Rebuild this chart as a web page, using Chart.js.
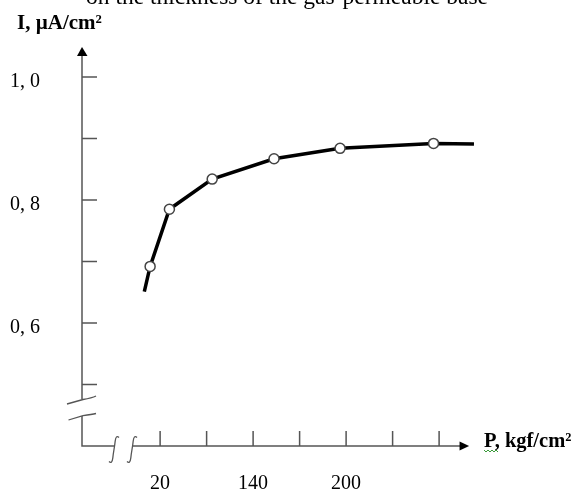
<!DOCTYPE html>
<html>
<head>
<meta charset="utf-8">
<script src="https://cdn.jsdelivr.net/npm/chart.js@4/dist/chart.umd.min.js"></script>
<style>
  html, body { margin: 0; padding: 0; background: #fff; }
  #wrap { width: 581px; height: 489px; position: relative; }
</style>
</head>
<body>
<div id="wrap"><canvas id="c" width="581" height="489"></canvas></div>
<script>
// ---- data ----
const chartTitle = 'on the thickness of the gas-permeable base';
const yAxisTitle = 'I, \u00B5A/cm\u00B2';
const xAxisTitle = 'P, kgf/cm\u00B2';
// x positions in tick-index units (tick 0 = "20", tick 2 = "140", tick 4 = "200")
const pressurePositions = [-0.34, -0.215, 0.2, 1.12, 2.45, 3.87, 5.88, 6.75];
const currentValues     = [0.651, 0.692, 0.785, 0.834, 0.867, 0.884, 0.892, 0.891];
const markerShown       = [false, true, true, true, true, true, true, false];
const xTickValues = [0, 1, 2, 3, 4, 5, 6];
const xTickLabels = ['20', '', '140', '', '200', '', ''];
const yTickValues = [0.5, 0.6, 0.7, 0.8, 0.9, 1.0];
const yTickLabels = ['', '0, 6', '', '0, 8', '', '1, 0'];

const AXIS = '#555';
const SERIF = '"Liberation Serif", "Times New Roman", serif';

function noPad(s) {
  s.paddingLeft = 0; s.paddingRight = 0; s.paddingTop = 0; s.paddingBottom = 0;
}

const axesPlugin = {
  id: 'handAxes',
  afterDraw(chart) {
    const ctx = chart.ctx;
    const xs = chart.scales.x, ys = chart.scales.y;
    const ox = chart.chartArea.left;
    const oy = chart.chartArea.bottom;
    const yTop = ys.getPixelForValue(1.0488);
    const xEnd = xs.getPixelForValue(6.645);
    const sq = [ox + 32, ox + 50];
    ctx.save();
    ctx.strokeStyle = AXIS;
    ctx.fillStyle = AXIS;
    ctx.lineWidth = 1.5;
    ctx.lineCap = 'butt';
    // y axis (with break)
    ctx.beginPath();
    ctx.moveTo(ox, yTop + 8);
    ctx.lineTo(ox, oy - 47);
    ctx.moveTo(ox, oy - 30);
    ctx.lineTo(ox, oy);
    // x axis (with break between the squiggles)
    ctx.lineTo(sq[0], oy);
    ctx.moveTo(sq[1], oy);
    ctx.lineTo(xEnd - 9, oy);
    ctx.stroke();
    // y arrow
    ctx.fillStyle = '#000';
    ctx.beginPath();
    ctx.moveTo(ox, yTop);
    ctx.lineTo(ox - 5, yTop + 9);
    ctx.lineTo(ox + 5.5, yTop + 9);
    ctx.closePath();
    ctx.fill();
    // x arrow
    ctx.beginPath();
    ctx.moveTo(xEnd, oy);
    ctx.lineTo(xEnd - 9.5, oy - 4.5);
    ctx.lineTo(xEnd - 9.5, oy + 4.5);
    ctx.closePath();
    ctx.fill();
    // y ticks (inward)
    ctx.beginPath();
    yTickValues.forEach(v => {
      const p = ys.getPixelForValue(v);
      ctx.moveTo(ox, p); ctx.lineTo(ox + 15, p);
    });
    // x ticks (upward)
    xTickValues.forEach(v => {
      const p = xs.getPixelForValue(v);
      ctx.moveTo(p, oy); ctx.lineTo(p, oy - 15);
    });
    ctx.stroke();
    // y-axis break marks
    ctx.lineWidth = 1.3;
    ctx.beginPath();
    ctx.moveTo(ox - 15, oy - 42);
    ctx.lineTo(ox + 1, oy - 46.5);
    ctx.quadraticCurveTo(ox + 10, oy - 48, ox + 14, oy - 50);
    ctx.moveTo(ox - 13.5, oy - 26);
    ctx.lineTo(ox + 1, oy - 30.3);
    ctx.quadraticCurveTo(ox + 10, oy - 31.5, ox + 14, oy - 32.5);
    ctx.stroke();
    // x-axis break squiggles
    sq.forEach(cx => {
      const t = oy - 10, b = oy + 17;
      ctx.beginPath();
      ctx.moveTo(cx + 5, t + 1.5);
      ctx.quadraticCurveTo(cx + 2, t - 1.5, cx + 1.2, t + 5);
      ctx.bezierCurveTo(cx + 0.5, t + 12, cx - 0.5, b - 12, cx - 1.2, b - 5);
      ctx.quadraticCurveTo(cx - 2, b + 1.5, cx - 5, b - 1.5);
      ctx.stroke();
    });
    // texts
    ctx.fillStyle = '#000';
    ctx.textBaseline = 'alphabetic';
    ctx.font = '23.5px ' + SERIF;
    ctx.textAlign = 'center';
    ctx.fillText(chartTitle, 287, 4);
    ctx.textAlign = 'left';
    ctx.font = 'bold 21px ' + SERIF;
    ctx.fillText(yAxisTitle, 17, 29);
    ctx.font = 'bold 20.5px ' + SERIF;
    ctx.fillText(xAxisTitle, 484, 447);
    // spell-check wavy underline under "P"
    ctx.strokeStyle = '#3a9a3a';
    ctx.lineWidth = 1;
    ctx.beginPath();
    ctx.moveTo(484, 450);
    for (let i = 1; i <= 7; i++) ctx.lineTo(484 + i * 2, i % 2 ? 452 : 450);
    ctx.stroke();
    ctx.restore();
  }
};

new Chart(document.getElementById('c'), {
  type: 'line',
  data: {
    datasets: [{
      data: pressurePositions.map((x, i) => ({ x: x, y: currentValues[i] })),
      borderColor: '#000',
      borderWidth: 3.5,
      tension: 0,
      fill: false,
      clip: false,
      pointRadius: markerShown.map(s => s ? 5 : 0),
      pointBackgroundColor: '#fff',
      pointBorderColor: '#444',
      pointBorderWidth: 1.5,
      pointHoverRadius: markerShown.map(s => s ? 5 : 0)
    }]
  },
  options: {
    responsive: false,
    animation: false,
    events: [],
    layout: { padding: { top: 40.1, right: 95.4, left: 0, bottom: 0 } },
    plugins: { legend: { display: false }, tooltip: { enabled: false }, title: { display: false } },
    scales: {
      x: {
        type: 'linear',
        min: -1.68,
        max: 7.0,
        border: { display: false },
        grid: { display: false },
        afterBuildTicks: s => { s.ticks = xTickValues.map(v => ({ value: v })); },
        afterFit: s => { s.height = 43; noPad(s); },
        ticks: {
          padding: 18,
          autoSkip: false,
          maxRotation: 0,
          color: '#000',
          font: { family: SERIF, size: 20 },
          callback: (v) => { const i = xTickValues.indexOf(v); return i >= 0 ? xTickLabels[i] : ''; }
        }
      },
      y: {
        type: 'linear',
        min: 0.4,
        max: 1.06,
        border: { display: false },
        grid: { display: false },
        afterBuildTicks: s => { s.ticks = yTickValues.map(v => ({ value: v })); },
        afterFit: s => { s.width = 82; noPad(s); },
        ticks: {
          padding: 34,
          labelOffset: 5,
          autoSkip: false,
          color: '#000',
          font: { family: SERIF, size: 20 },
          callback: (v) => { const i = yTickValues.findIndex(t => Math.abs(t - v) < 1e-9); return i >= 0 ? yTickLabels[i] : ''; }
        }
      }
    }
  },
  plugins: [axesPlugin]
});
</script>
</body>
</html>
